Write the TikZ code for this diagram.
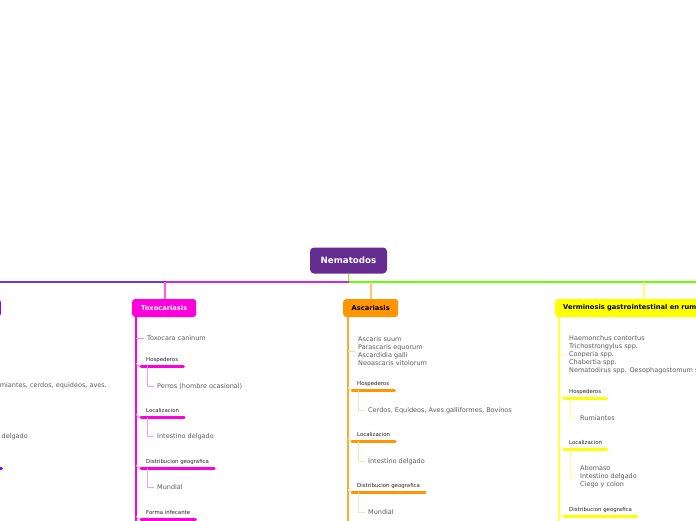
\documentclass[tikz,border=0pt]{standalone}
\usepackage{fontspec}
\setmainfont{DejaVu Sans}
\usetikzlibrary{calc}
\definecolor{rootc}{RGB}{102,45,145}
\definecolor{viol}{RGB}{136,0,255}
\definecolor{violine}{RGB}{110,50,240}
\definecolor{mag}{RGB}{255,0,221}
\definecolor{magline}{RGB}{200,40,235}
\definecolor{org}{RGB}{255,149,0}
\definecolor{yel}{RGB}{255,255,0}
\definecolor{grn}{RGB}{102,255,0}
\definecolor{leafc}{RGB}{90,90,90}
\definecolor{headc}{RGB}{35,35,35}
\tikzset{
 rootbox/.style={fill=rootc, rounded corners=4pt, text=white, font=\fontsize{8.7}{10}\selectfont\bfseries, minimum width=77pt, minimum height=26pt, inner sep=0pt},
 branch/.style={rounded corners=3pt, minimum height=18pt, font=\fontsize{6.7}{8}\selectfont\bfseries, inner ysep=0pt, anchor=west},
 leaf/.style={anchor=west, font=\fontsize{6.5}{8}\selectfont, text=leafc, align=left, inner xsep=3pt, inner ysep=0pt},
 headlbl/.style={anchor=south west, font=\fontsize{5.4}{6}\selectfont, text=headc, inner xsep=5pt, inner ysep=3.5pt, text height=4pt, text depth=1pt},
 bar/.style={line width=3pt, line cap=round},
 trunk/.style={line width=1.5pt},
 lite/.style={line width=0.8pt},
 hline/.style={line width=1.5pt},
}
\begin{document}
\begin{tikzpicture}[x=1pt,y=-1pt]
\useasboundingbox (0,0) rectangle (696,520);
\clip (0,0) rectangle (696,520);

% root
\node[rootbox] (root) at (348.5,260.5) {Nematodos};
\coordinate (hub) at (348.5,282);
\coordinate (rightend) at (700,282);
\coordinate (leftend) at (-5,282);
\coordinate (tstem) at (165,282);
\coordinate (astem) at (371,282);
\coordinate (vstem) at (644,282);

% branch nodes
\node[branch, fill=viol, minimum width=58pt, anchor=east] (lft) at (1,308) {};
\node[branch, fill=mag, text=white, minimum width=64pt, inner xsep=0pt] (tox) at (132,308) {Toxocariasis};
\node[branch, fill=org, text=black, minimum width=55pt, inner xsep=0pt] (asc) at (343,308) {Ascariasis};
\node[branch, fill=yel, text=black, inner xsep=8pt] (ver) at (555,308) {Verminosis gastrointestinal en rumiantes};

% main lines
\draw[hline, grn] (root.south) -- (hub) -- (rightend);
\draw[hline, magline] (hub) -- (tstem);
\draw[hline, violine] (tstem) -- (leftend);
\draw[hline, mag!65] (tstem) -- (tstem |- tox.north);
\draw[hline, org!55] (astem) -- (astem |- asc.north);
\draw[hline, yel!55] (vstem) -- (vstem |- ver.north);

% ---------- left (cut) branch ----------
\node[leaf, anchor=east, inner xsep=0pt] (lL1) at (107,385.5) {Rumiantes, cerdos, equideos, aves.};
\node[leaf, anchor=east, inner xsep=0pt] (lL2) at (28,436.5) {Intestino delgado};
\node[headlbl, anchor=south east] (lH3) at (1.5,468) {Distribucion geografica};
\draw[bar, viol] (lH3.south west) -- (lH3.south east);

% ---------- Toxocariasis ----------
\coordinate (tT) at (136,317);
\coordinate (tTend) at (136,525);
\draw[trunk, mag] (tT) -- (tTend);
\node[leaf] (tL0) at (144,338.5) {Toxocara caninum};
\draw[lite, mag!45] (tT |- tL0.west) -- (tL0.west);

\node[headlbl] (tH1) at (141,366) {Hospederos};
\node[headlbl] (tH2) at (141,417) {Localizacion};
\node[headlbl] (tH3) at (141,468) {Distribucion geografica};
\node[headlbl] (tH4) at (141,519) {Forma infecante};
\foreach \h in {tH1,tH2,tH3,tH4}{
  \draw[lite, mag!45] ($(\h.south west -| tT)+(0,-3)$) to[out=-90,in=180] (\h.south west);
  \draw[bar, mag] (\h.south west) -- (\h.south east);
}
\node[leaf] (tL1) at (154,386) {Perros (hombre ocasional)};
\node[leaf] (tL2) at (154,436.5) {Intestino delgado};
\node[leaf] (tL3) at (154,487.5) {Mundial};
\draw[lite, mag!40] ([xshift=6pt]tH1.south west) |- (tL1.west);
\draw[lite, mag!40] ([xshift=6pt]tH2.south west) |- (tL2.west);
\draw[lite, mag!40] ([xshift=6pt]tH3.south west) |- (tL3.west);

% ---------- Ascariasis ----------
\coordinate (aT) at (348,317);
\coordinate (aTend) at (348,525);
\draw[trunk, org!80] (aT) -- (aTend);
\node[leaf] (aL0) at (355,351) {Ascaris suum\\Parascaris equorum\\Ascardidia galli\\Neoascaris vitolorum};
\draw[lite, org!40] (aT |- aL0.west) -- (aL0.west);

\node[headlbl] (aH1) at (352,390) {Hospederos};
\node[headlbl] (aH2) at (352,441) {Localizacion};
\node[headlbl] (aH3) at (352,492) {Distribucion geografica};
\foreach \h in {aH1,aH2,aH3}{
  \draw[lite, org!40] ($(\h.south west -| aT)+(0,-3)$) to[out=-90,in=180] (\h.south west);
  \draw[bar, org] (\h.south west) -- (\h.south east);
}
\node[leaf] (aL1) at (365,410.5) {Cerdos, Equideos, Aves galliformes, Bovinos};
\node[leaf] (aL2) at (365,461.5) {Intestino delgado};
\node[leaf] (aL3) at (365,512.5) {Mundial};
\draw[lite, org!30] ([xshift=6pt]aH1.south west) |- (aL1.west);
\draw[lite, org!30] ([xshift=6pt]aH2.south west) |- (aL2.west);
\draw[lite, org!30] ([xshift=6pt]aH3.south west) |- (aL3.west);

% ---------- Verminosis ----------
\coordinate (vT) at (559,317);
\coordinate (vTend) at (559,525);
\draw[trunk, yel!70] (vT) -- (vTend);
\node[leaf] (vL0) at (566,355) {Haemonchus contortus\\Trichostrongylus spp.\\Cooperia spp.\\Chabertia spp.\\Nematodirus spp. Oesophagostomum spp.};
\draw[lite, yel!50] (vT |- vL0.west) -- (vL0.west);

\node[headlbl] (vH1) at (564,398) {Hospederos};
\node[headlbl] (vH2) at (564,449) {Localizacion};
\node[headlbl] (vH3) at (564,516) {Distribucion geografica};
\foreach \h in {vH1,vH2,vH3}{
  \draw[lite, yel!50] ($(\h.south west -| vT)+(0,-3)$) to[out=-90,in=180] (\h.south west);
  \draw[bar, yel] (\h.south west) -- (\h.south east);
}
\node[leaf] (vL1) at (577,418.5) {Rumiantes};
\node[leaf] (vL2) at (577,477) {Abomaso\\Intestino delgado\\Ciego y colon};
\draw[lite, yel!45] ([xshift=6pt]vH1.south west) |- (vL1.west);
\draw[lite, yel!45] ([xshift=6pt]vH2.south west) |- (vL2.west);
\end{tikzpicture}
\end{document}
